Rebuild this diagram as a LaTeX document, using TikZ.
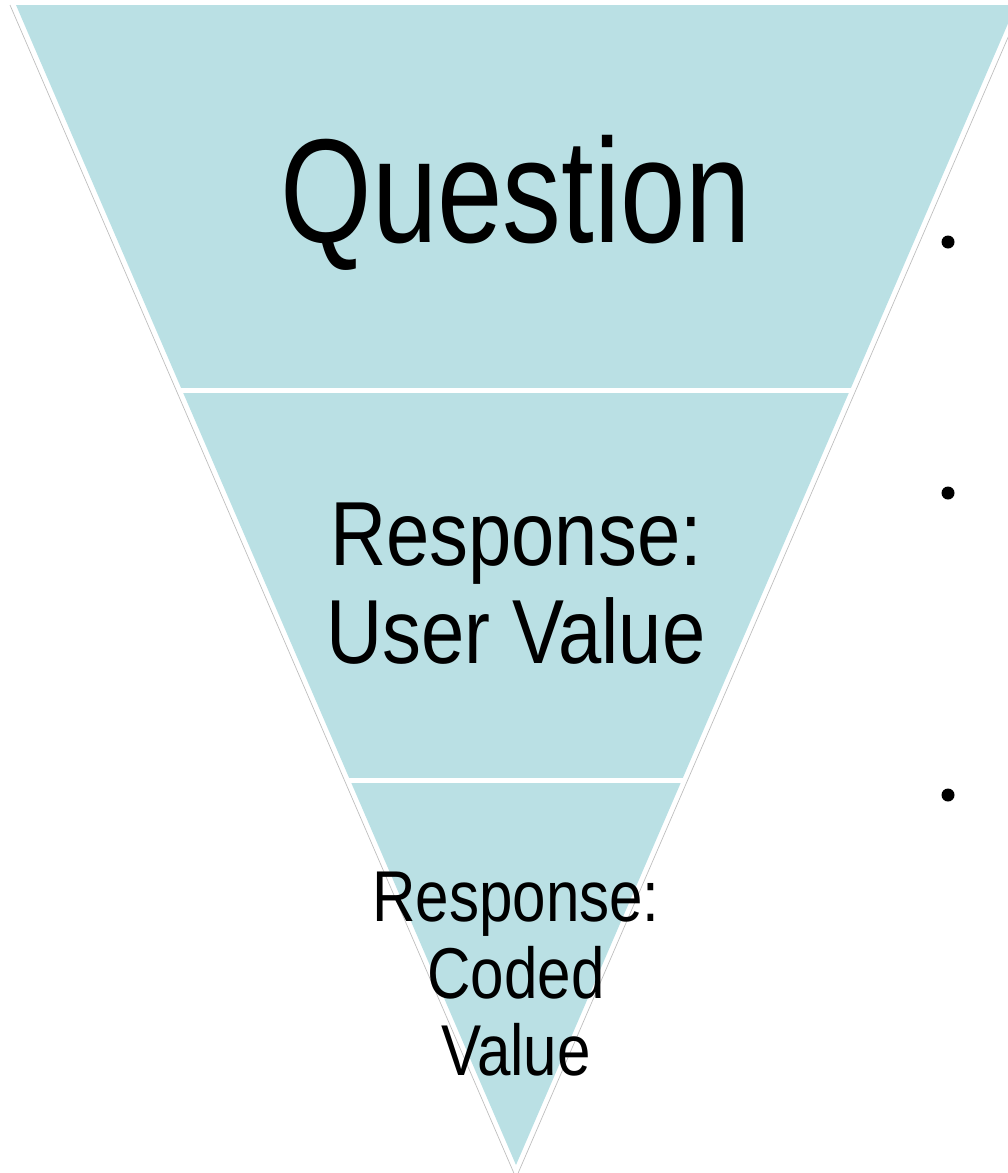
\documentclass[tikz,border=0pt]{standalone}
\usepackage{fontspec}
\newfontfamily\qfont[FakeStretch=0.795]{Liberation Sans}
\newfontfamily\ufont[FakeStretch=0.855]{Liberation Sans}
\newfontfamily\cfont[FakeStretch=0.835]{Liberation Sans}
\definecolor{funnel}{RGB}{186,224,228}
\definecolor{rim}{RGB}{190,190,190}
\begin{document}
\begin{tikzpicture}[x=1pt,y=-1pt,
  band/.style={fill=funnel},
  gap/.style={draw=white,line width=5pt},
  rimline/.style={draw=rim,line width=0.7pt},
  lab/.style={inner sep=0pt,align=center,text=black},
  dot/.style={circle,fill=black,minimum size=13pt,inner sep=0pt}]
\useasboundingbox (0,0) rectangle (1008,1173);
\clip (0,0) rectangle (1008,1173);
% funnel
\coordinate (tl) at (16,5);
\coordinate (tr) at (1016,5);
\coordinate (ap) at (516,1165);
\fill[band] (tl) -- (tr) -- (ap) -- cycle;
\coordinate (g1l) at (150,390.5);
\coordinate (g1r) at (880,390.5);
\coordinate (g2l) at (320,780.5);
\coordinate (g2r) at (710,780.5);
\draw[gap] (g1l) -- (g1r);
\draw[gap] (g2l) -- (g2r);
% outer rim
\coordinate (ol) at (10,5);
\coordinate (oa) at (516,1178);
\coordinate (or) at (1022,5);
\draw[rimline] (ol) -- (oa) -- (or);
% labels (base anchor = baseline of last line)
\node[lab,anchor=base,font=\qfont\fontsize{148}{160}\selectfont] (q) at (516,242) {Question};
\node[lab,anchor=base,font=\ufont\fontsize{91}{98}\selectfont] (uv) at (516,663) {Response:\\User Value};
\node[lab,anchor=base,font=\cfont\fontsize{72}{77}\selectfont] (cv) at (516,1075) {Response:\\Coded\\Value};
% bullets
\node[dot] (b1) at (948,242) {};
\node[dot] (b2) at (948,493) {};
\node[dot] (b3) at (948,795) {};
\end{tikzpicture}
\end{document}
